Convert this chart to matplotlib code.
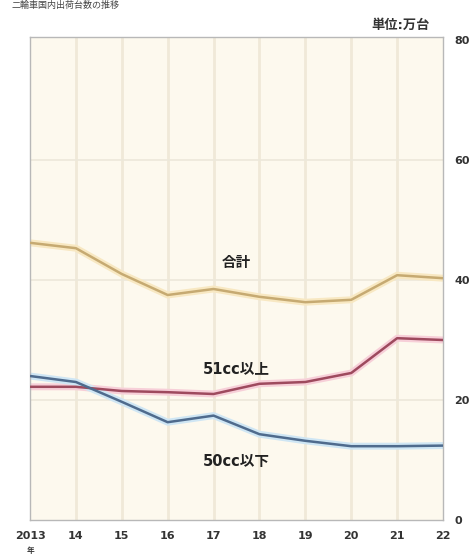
import matplotlib
matplotlib.use("Agg")
import matplotlib.pyplot as plt

plt.rcParams['font.family'] = ['DejaVu Sans', 'Noto Sans CJK JP']

years = [2013, 2014, 2015, 2016, 2017, 2018, 2019, 2020, 2021, 2022]
year_labels = ["2013", "14", "15", "16", "17", "18", "19", "20", "21", "22"]
total = [46.2, 45.3, 41.0, 37.5, 38.5, 37.2, 36.3, 36.7, 40.8, 40.3]
over51 = [22.2, 22.2, 21.5, 21.3, 21.0, 22.7, 23.0, 24.5, 30.3, 30.0]
under50 = [24.0, 23.0, 19.7, 16.3, 17.4, 14.3, 13.2, 12.3, 12.3, 12.4]
y_ticks = [0, 20, 40, 60, 80]

fig = plt.figure(figsize=(4.72, 5.57), dpi=100)
ax = fig.add_axes([30 / 472, 37 / 557, 413 / 472, 483 / 557])
ax.set_facecolor('#fdf9ee')

ax.set_xlim(years[0], years[-1])
ax.set_ylim(0, 80.5)

for x in years[1:-1]:
    ax.axvline(x, color='#f0e9d8', lw=2.0, zorder=1)
for y in y_ticks[1:-1]:
    ax.axhline(y, color='#ede8da', lw=1.2, zorder=1)

series = [
    (total, '#c6aa72', '#f8e8c2'),
    (over51, '#9e4a5e', '#f7cfd8'),
    (under50, '#4f6b8d', '#cfe6f4'),
]
for vals, col, glow in series:
    ax.plot(years, vals, color=glow, lw=5, solid_capstyle='butt', zorder=2)
    ax.plot(years, vals, color=col, lw=1.8, solid_capstyle='butt', zorder=3)

lab_kw = dict(fontsize=10.5, fontweight='bold', color='#222222', ha='center', va='center')
ax.text(2017.5, 43.0, '合計', **lab_kw)
ax.text(2017.5, 25.2, '51cc以上', **lab_kw)
ax.text(2017.5, 9.7, '50cc以下', **lab_kw)

for side in ['left', 'right', 'top', 'bottom']:
    ax.spines[side].set_color('#b8b8b8')
    ax.spines[side].set_linewidth(1.0)

ax.set_xticks(years)
ax.set_xticklabels(year_labels, fontsize=8, fontweight='bold', color='#333333')
ax.yaxis.tick_right()
ax.set_yticks(y_ticks)
ax.set_yticklabels([str(v) for v in y_ticks], fontsize=8, fontweight='bold', color='#333333')
ax.tick_params(axis='both', length=0)
ax.tick_params(axis='x', pad=8)
ax.tick_params(axis='y', pad=8)

fig.text(30 / 472, 1 - 551 / 557, '年', fontsize=5.5, fontweight='bold',
         color='#333333', ha='center', va='center')
fig.text(430 / 472, 1 - 25 / 557, '単位:万台', fontsize=9.5, fontweight='bold',
         color='#333333', ha='right', va='center')
fig.text(12 / 472, 1 - 1 / 557, '二輪車国内出荷台数の推移', fontsize=6.5, color='#444444',
         ha='left', va='top')

fig.savefig('out.png', dpi=100, facecolor='white')
